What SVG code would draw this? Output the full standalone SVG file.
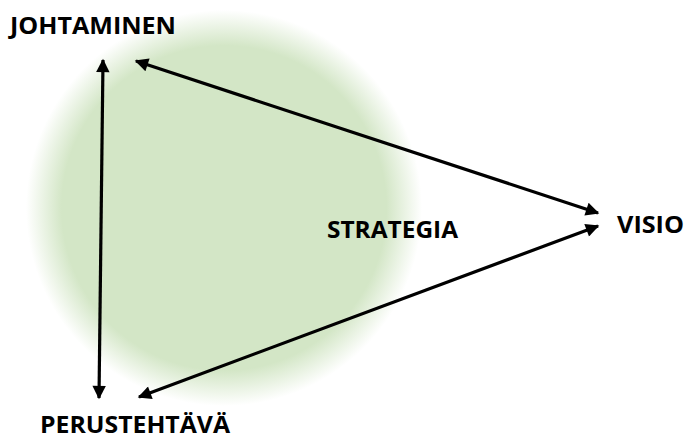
<svg xmlns="http://www.w3.org/2000/svg" width="685" height="441" viewBox="0 0 685 441">
  <defs>
    <radialGradient id="glow" cx="0.5" cy="0.5" r="0.5">
      <stop offset="0" stop-color="#d3e6c6"/>
      <stop offset="0.82" stop-color="#d3e6c6"/>
      <stop offset="1" stop-color="#d3e6c6" stop-opacity="0"/>
    </radialGradient>
    <marker id="head" viewBox="0 0 10 10" refX="9" refY="5" markerWidth="5" markerHeight="4.2" orient="auto-start-reverse" markerUnits="strokeWidth">
      <path d="M0,0 L10,5 L0,10 z" fill="#000"/>
    </marker>
    <style>
      .lbl { font-family: "Open Sans", "Liberation Sans", sans-serif; font-weight: bold; font-size: 24px; fill: #000; }
      .conn { stroke: #000; stroke-width: 3.2; fill: none; marker-start: url(#head); marker-end: url(#head); }
    </style>
  </defs>

  <!-- soft green backdrop -->
  <circle cx="224" cy="208" r="198" fill="url(#glow)"/>

  <g id="connectors">
    <line class="conn" x1="103" y1="60" x2="99" y2="398"/>
    <line class="conn" x1="136" y1="61" x2="598" y2="213"/>
    <line class="conn" x1="139" y1="397" x2="598" y2="226"/>
  </g>

  <g id="johtaminen"><text class="lbl" x="10" y="34" textLength="166" lengthAdjust="spacingAndGlyphs">JOHTAMINEN</text></g>
  <g id="strategia"><text class="lbl" x="327" y="238" textLength="131" lengthAdjust="spacingAndGlyphs">STRATEGIA</text></g>
  <g id="visio"><text class="lbl" x="617" y="233" textLength="67" lengthAdjust="spacingAndGlyphs">VISIO</text></g>
  <g id="perustehtava"><text class="lbl" x="40" y="433" textLength="190" lengthAdjust="spacingAndGlyphs">PERUSTEHTÄVÄ</text></g>
</svg>
